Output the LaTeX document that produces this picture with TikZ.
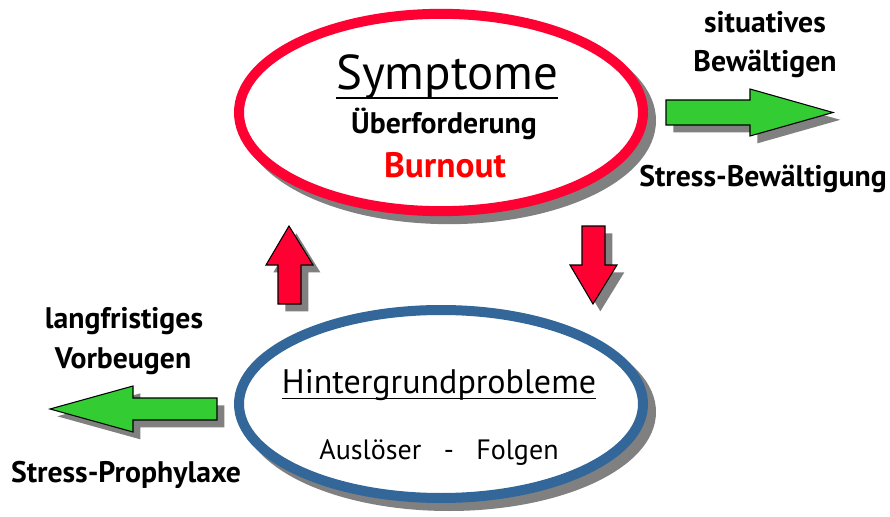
\documentclass[tikz,border=0pt]{standalone}
\usepackage{fontspec}
\setmainfont{PT Sans}
\usetikzlibrary{shapes.geometric,shadows}
\definecolor{sympred}{HTML}{FF0033}
\definecolor{burnred}{HTML}{FF0000}
\definecolor{hintblue}{HTML}{336699}
\definecolor{pfeilgruen}{HTML}{33CC33}
\definecolor{schatten}{HTML}{808080}
\tikzset{
  ovalschatten/.style={drop shadow={shadow xshift=6pt,shadow yshift=-6pt,opacity=1,fill=schatten,draw=schatten,line width=7.5pt}},
  pfeilschatten/.style={drop shadow={shadow xshift=5.5pt,shadow yshift=-5.5pt,opacity=1,fill=schatten}},
  oval/.style={ellipse,draw,line width=7.5pt,fill=white,minimum width=303pt,minimum height=148pt,ovalschatten},
  pfeil/.style={draw=black,line width=0.8pt,pfeilschatten},
  titel/.style={anchor=base,inner sep=0pt,font=\fontsize{36.7}{42}\selectfont},
  lbl/.style={anchor=base,inner sep=0pt,font=\bfseries\fontsize{22.3}{26}\selectfont},
}
\begin{document}
\begin{tikzpicture}[x=0.75pt,y=-0.75pt]
\useasboundingbox (0,0) rectangle (890,517);
% ellipses
\node[oval,draw=sympred] (symp) at (441,112.5) {};
\node[oval,draw=hintblue,minimum height=141pt] (hint) at (441,404) {};
% texts in the ellipses
\node[titel] (symtxt) at (447,90) {Symptome};
\draw[line width=1.3pt] ([yshift=-6pt]symtxt.base west) -- ([yshift=-6pt]symtxt.base east);
\node[lbl] (ueber) at (444,133) {Überforderung};
\node[lbl,text=burnred,font=\bfseries\fontsize{26.5}{30}\selectfont] (burn) at (445,177) {Burnout};
\node[titel,font=\fontsize{25.5}{30}\selectfont] (hinttxt) at (439,393) {Hintergrundprobleme};
\draw[line width=1.1pt] ([yshift=-4pt]hinttxt.base west) -- ([yshift=-4pt]hinttxt.base east);
\node[titel,font=\fontsize{21}{25}\selectfont] (ausl) at (439,459) {Auslöser\ \ \ -\ \ \ Folgen};
% red arrows
\draw[pfeil,fill=sympred] (278,304) -- (278,265) -- (266,265) -- (289,226) -- (313,265) -- (301,265) -- (301,304) -- cycle;
\draw[pfeil,fill=sympred] (582,226) -- (605,226) -- (605,265) -- (617,265) -- (593,304) -- (570,265) -- (582,265) -- cycle;
% green arrows
\draw[pfeil,fill=pfeilgruen] (666,100) -- (750,100) -- (750,89) -- (833,112.5) -- (750,136) -- (750,125) -- (666,125) -- cycle;
\draw[pfeil,fill=pfeilgruen] (217,398) -- (133,398) -- (133,386) -- (50,409) -- (133,432) -- (133,420) -- (217,420) -- cycle;
% outer labels
\node[lbl] (sit) at (765,33) {situatives};
\node[lbl] (bew) at (765,72) {Bewältigen};
\node[lbl] (sbew) at (763,186) {Stress-Bewältigung};
\node[lbl] (lang) at (124,328) {langfristiges};
\node[lbl] (vorb) at (123,368) {Vorbeugen};
\node[lbl] (sproph) at (126,482) {Stress-Prophylaxe};
\end{tikzpicture}
\end{document}
